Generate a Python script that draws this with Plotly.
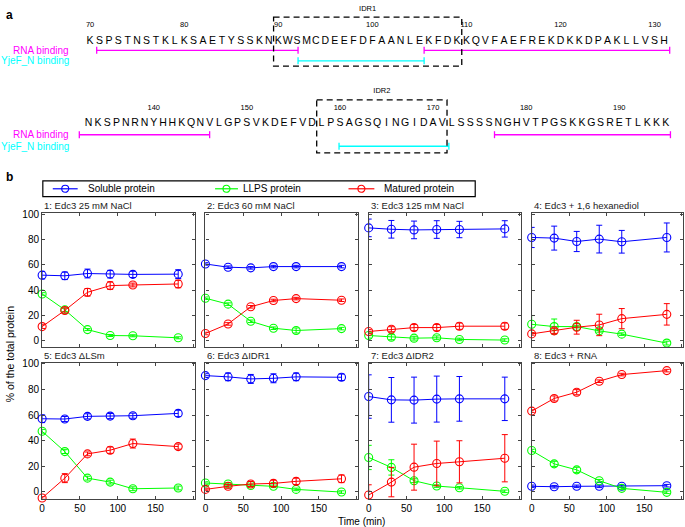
import plotly.graph_objects as go

W, H = 685, 527
FONT = "Liberation Sans, Arial, Helvetica, sans-serif"

# ---------------- panel a: sequence data ----------------
seq1 = "KSPSTNSTKLKSAETYSSKNKWSMCDEEFDFAANLEKFDKKQVFAEFREKDKKDPAKLLVSH"
seq1_start = 70
seq1_ticks = [70, 80, 90, 100, 110, 120, 130]
seq2 = "NKSPNRNYHHKQNVLGPSVKDEFVDLPSAGSQINGIDAVLSSSSNGHVTPGSKKGSRETLKKK"
seq2_start = 133
seq2_ticks = [140, 150, 160, 170, 180, 190]

rna_binding_1 = [(70.7, 92.1), (105.5, 131.6)]
yjef_binding_1 = [(92.1, 105.5)]
rna_binding_2 = [(132.0, 146.0), (176.6, 195.5)]
yjef_binding_2 = [(159.9, 171.7)]
idr1 = (89.5, 109.5)
idr2 = (157.5, 171.5)

# ---------------- panel b: phase data ----------------
time = [0, 30, 60, 90, 120, 180]
panel_titles = ["1: Edc3 25 mM NaCl", "2: Edc3 60 mM NaCl", "3: Edc3 125 mM NaCl",
                "4: Edc3 + 1,6 hexanediol", "5: Edc3 \u0394LSm", "6: Edc3 \u0394IDR1",
                "7: Edc3 \u0394IDR2", "8: Edc3 + RNA"]

soluble = [
    [51.8, 51.3, 53.1, 52.6, 52.4, 52.6],
    [60.7, 58.1, 57.6, 58.6, 58.6, 58.6],
    [89.3, 88.2, 87.7, 88.0, 88.0, 88.5],
    [81.7, 81.2, 78.5, 80.4, 78.3, 81.7],
    [57.1, 56.9, 59.0, 59.2, 59.5, 61.3],
    [90.9, 89.9, 88.3, 88.8, 89.9, 89.6],
    [74.5, 71.9, 71.7, 72.5, 72.7, 72.7],
    [4.2, 3.9, 4.2, 4.2, 4.2, 4.7],
]
soluble_err = [
    [3, 3, 3.5, 3, 2.5, 3.5],
    [1, 1, 1, 1, 1, 1],
    [7, 7, 7, 7, 6.5, 6.5],
    [8, 9.5, 8, 11, 9, 11.5],
    [3, 2, 2, 2, 2, 2.5],
    [1.5, 3, 3.5, 3.5, 3, 2.5],
    [17, 17.5, 18, 18, 17.5, 17],
    [1, 1, 1, 1, 1, 1],
]
llps = [
    [36.9, 24.3, 8.6, 3.9, 3.7, 2.1],
    [33.5, 28.8, 15.2, 9.7, 7.9, 9.4],
    [3.9, 2.6, 1.8, 2.1, 0.8, 0.3],
    [12.8, 11.0, 11.0, 7.6, 5.0, -2.1],
    [47.3, 31.4, 10.6, 7.5, 2.3, 2.9],
    [6.8, 6.0, 4.9, 4.2, 1.8, -0.3],
    [26.8, 19.0, 8.6, 4.4, 3.1, 0.3],
    [32.2, 21.8, 17.1, 8.6, 2.6, -0.5],
]
llps_err = [
    [1, 1.5, 0.8, 0.8, 0.8, 0.8],
    [1, 1, 1, 1, 2, 1],
    [2, 2, 1.5, 1.5, 1, 1],
    [7, 6, 1, 1, 1, 1.5],
    [1.5, 1.5, 1.5, 1.5, 1.5, 1.5],
    [1, 1, 1, 1, 1, 1],
    [9.5, 6, 1.5, 1, 1, 1],
    [1, 2, 2, 1, 1, 1],
]
matured = [
    [11.0, 23.8, 38.2, 43.5, 44.0, 44.8],
    [5.5, 13.1, 26.7, 31.7, 33.2, 31.9],
    [7.1, 8.9, 10.2, 10.2, 11.3, 11.3],
    [5.2, 7.6, 10.5, 12.3, 17.3, 20.7],
    [-4.9, 10.6, 29.6, 32.5, 37.7, 35.3],
    [1.8, 4.2, 6.0, 6.5, 8.1, 10.1],
    [-2.6, 7.5, 19.2, 22.1, 23.4, 26.2],
    [63.1, 73.0, 77.9, 86.5, 91.7, 94.8],
]
matured_err = [
    [1.5, 2, 3, 3, 1.5, 3],
    [1, 1, 1, 1, 1, 1],
    [1.5, 2, 2.5, 2.5, 2.5, 2.5],
    [1, 2, 5.5, 8.5, 8, 8.5],
    [1, 3.5, 1.5, 2.5, 3.5, 2],
    [1, 1.5, 2, 2.5, 2.5, 3],
    [8, 11.5, 18, 17.5, 16.5, 18.5],
    [1, 2, 2, 1, 1, 1],
]

series_names = ["Soluble protein", "LLPS protein", "Matured protein"]
series_colors = ["#0000ff", "#00ff00", "#ff0000"]


def px(x):
    return x / W


def py(y):
    return 1 - y / H


fig = go.Figure()
layout = {}

# ---------------- panel b subplots ----------------
cols_px = [(39.3, 192.7), (203.3, 356.7), (367.3, 520.7), (531, 683.3)]
rows_px = [(211, 346), (361.7, 498.5)]
axis_color = "#444444"

for i in range(8):
    r, c = divmod(i, 4)
    sfx = "" if i == 0 else str(i + 1)
    layout["xaxis" + sfx] = dict(
        domain=[px(cols_px[c][0]), px(cols_px[c][1])], range=[0, 202], anchor="y" + sfx,
        showline=True, linecolor=axis_color, linewidth=1.2, mirror="allticks",
        ticks="inside", ticklen=3, tickcolor=axis_color, tickwidth=1,
        tickvals=[0, 50, 100, 150, 200], ticktext=["0", "50", "100", "150", ""],
        showticklabels=(r == 1), showgrid=False, zeroline=False,
        tickfont=dict(size=10, color="black", family=FONT))
    layout["yaxis" + sfx] = dict(
        domain=[py(rows_px[r][1]), py(rows_px[r][0])], range=[-5.5, 100.8], anchor="x" + sfx,
        showline=True, linecolor=axis_color, linewidth=1.2, mirror="allticks",
        ticks="inside", ticklen=3, tickcolor=axis_color, tickwidth=1,
        tickvals=[0, 20, 40, 60, 80, 100], showticklabels=(c == 0),
        showgrid=False, zeroline=False,
        tickfont=dict(size=10, color="black", family=FONT))

    for vals, errs, name, color in zip([soluble[i], llps[i], matured[i]],
                                       [soluble_err[i], llps_err[i], matured_err[i]],
                                       series_names, series_colors):
        fig.add_trace(go.Scatter(
            x=time, y=vals, name=name, mode="lines+markers",
            xaxis="x" + sfx, yaxis="y" + sfx,
            line=dict(color=color, width=1),
            marker=dict(symbol="circle-open", size=8, color=color, line=dict(width=1.1)),
            error_y=dict(type="data", array=errs, color=color, thickness=1, width=3),
            cliponaxis=False, showlegend=False))

# ---------------- panel a: sequence overlay axes ----------------
p1, x01 = 9.45, 87.5
p2, x02 = 9.35, 86.0
layout["xaxis9"] = dict(domain=[0, 1], range=[seq1_start - x01 / p1, seq1_start + (W - x01) / p1],
                        anchor="y9", visible=False)
layout["xaxis10"] = dict(domain=[0, 1], range=[seq2_start - x02 / p2, seq2_start + (W - x02) / p2],
                         anchor="y9", overlaying="x9", visible=False)
layout["yaxis9"] = dict(domain=[0, 1], range=[H, 0], anchor="x9", visible=False)

shapes = []
annotations = []

seq_rows = [
    (seq1, seq1_start, seq1_ticks, rna_binding_1, yjef_binding_1, idr1, "x9", "IDR1",
     dict(num=21.7, seq=37.3, rna=46.7, yjef=57.3, top=13.3, bot=62.7, lab=5.0)),
    (seq2, seq2_start, seq2_ticks, rna_binding_2, yjef_binding_2, idr2, "x10", "IDR2",
     dict(num=105.0, seq=120.0, rna=131.7, yjef=143.3, top=96.7, bot=150.0, lab=88.0)),
]

for seq, start, ticks, rna, yjef, idr, xa, idr_name, ys in seq_rows:
    residues = list(range(start, start + len(seq)))
    fig.add_trace(go.Scatter(
        x=residues, y=[ys["seq"]] * len(seq), text=list(seq), mode="text",
        xaxis=xa, yaxis="y9", textfont=dict(size=10.5, color="black", family=FONT),
        showlegend=False, hoverinfo="skip"))
    fig.add_trace(go.Scatter(
        x=ticks, y=[ys["num"]] * len(ticks), text=[str(t) for t in ticks], mode="text",
        xaxis=xa, yaxis="y9", textfont=dict(size=7.5, color="black", family=FONT),
        showlegend=False, hoverinfo="skip"))
    for segs, yk, color in [(rna, "rna", "#ff00ff"), (yjef, "yjef", "#00ffff")]:
        for a, b in segs:
            fig.add_trace(go.Scatter(
                x=[a, b], y=[ys[yk]] * 2, mode="lines+markers", xaxis=xa, yaxis="y9",
                line=dict(color=color, width=1.4),
                marker=dict(symbol="line-ns", size=5, line=dict(color=color, width=1.3)),
                showlegend=False, hoverinfo="skip"))
    shapes.append(dict(type="rect", xref=xa, yref="y9", x0=idr[0], x1=idr[1],
                       y0=ys["top"], y1=ys["bot"],
                       line=dict(color="black", width=1.3, dash="6px,4px")))
    fig.add_trace(go.Scatter(
        x=[(idr[0] + idr[1]) / 2], y=[ys["lab"]], text=[idr_name], mode="text",
        xaxis=xa, yaxis="y9", textfont=dict(size=7.5, color="black", family=FONT),
        showlegend=False, hoverinfo="skip"))
    annotations.append(dict(x=px(68.5), y=py(ys["rna"]), xref="paper", yref="paper",
                            text="RNA binding", showarrow=False, xanchor="right", yanchor="middle",
                            font=dict(size=10, color="#ff00ff", family=FONT)))
    annotations.append(dict(x=px(68.5), y=py(ys["yjef"]), xref="paper", yref="paper",
                            text="YjeF_N binding", showarrow=False, xanchor="right", yanchor="middle",
                            font=dict(size=10, color="#00ffff", family=FONT)))

# panel letters
annotations.append(dict(x=px(1), y=py(11), xref="paper", yref="paper", text="<b>a</b>",
                        showarrow=False, xanchor="left", yanchor="middle",
                        font=dict(size=12, color="black", family=FONT)))
annotations.append(dict(x=px(1), y=py(174), xref="paper", yref="paper", text="<b>b</b>",
                        showarrow=False, xanchor="left", yanchor="middle",
                        font=dict(size=12, color="black", family=FONT)))

# subplot titles
for i, title in enumerate(panel_titles):
    r, c = divmod(i, 4)
    annotations.append(dict(x=px(cols_px[c][0]), y=py(rows_px[r][0] - 7.5), xref="paper", yref="paper",
                            text=title, showarrow=False, xanchor="left", yanchor="middle",
                            font=dict(size=9.5, color="#222222", family=FONT)))

# axis titles
annotations.append(dict(x=px(7), y=py(353), xref="paper", yref="paper", text="% of the total protein",
                        textangle=-90, showarrow=False, xanchor="center", yanchor="middle",
                        font=dict(size=10.5, color="black", family=FONT)))
annotations.append(dict(x=px(360), y=py(521.5), xref="paper", yref="paper", text="Time (min)",
                        showarrow=False, xanchor="center", yanchor="middle",
                        font=dict(size=10, color="black", family=FONT)))

# legend box
leg_y = 186.2
shapes.append(dict(type="rect", xref="paper", yref="paper", x0=px(40), x1=px(474.3),
                   y0=py(194), y1=py(178.3), line=dict(color="black", width=1.2)))
leg_lines = [(50, 75), (213, 236), (347, 373)]
leg_text_x = [83, 239, 381]
for (a, b), tx, name, color in zip(leg_lines, leg_text_x, series_names, series_colors):
    shapes.append(dict(type="line", xref="paper", yref="paper", x0=px(a), x1=px(b),
                       y0=py(leg_y), y1=py(leg_y), line=dict(color=color, width=1.2)))
    shapes.append(dict(type="circle", xref="paper", yref="paper", xsizemode="pixel", ysizemode="pixel",
                       xanchor=px((a + b) / 2), yanchor=py(leg_y), x0=-3.5, x1=3.5, y0=-3.5, y1=3.5,
                       line=dict(color=color, width=1.1)))
    annotations.append(dict(x=px(tx), y=py(leg_y), xref="paper", yref="paper", text=name,
                            showarrow=False, xanchor="left", yanchor="middle",
                            font=dict(size=10, color="black", family=FONT)))

fig.update_layout(
    width=W, height=H, margin=dict(l=0, r=0, t=0, b=0),
    paper_bgcolor="white", plot_bgcolor="rgba(0,0,0,0)",
    font=dict(family=FONT, color="black"),
    shapes=shapes, annotations=annotations, showlegend=False,
    **layout)

# drop the default page margin so the figure sits at the window's top-left corner
fig.write_html("out.html", config={"displayModeBar": False},
               post_script="document.body.style.margin = '0px';")
